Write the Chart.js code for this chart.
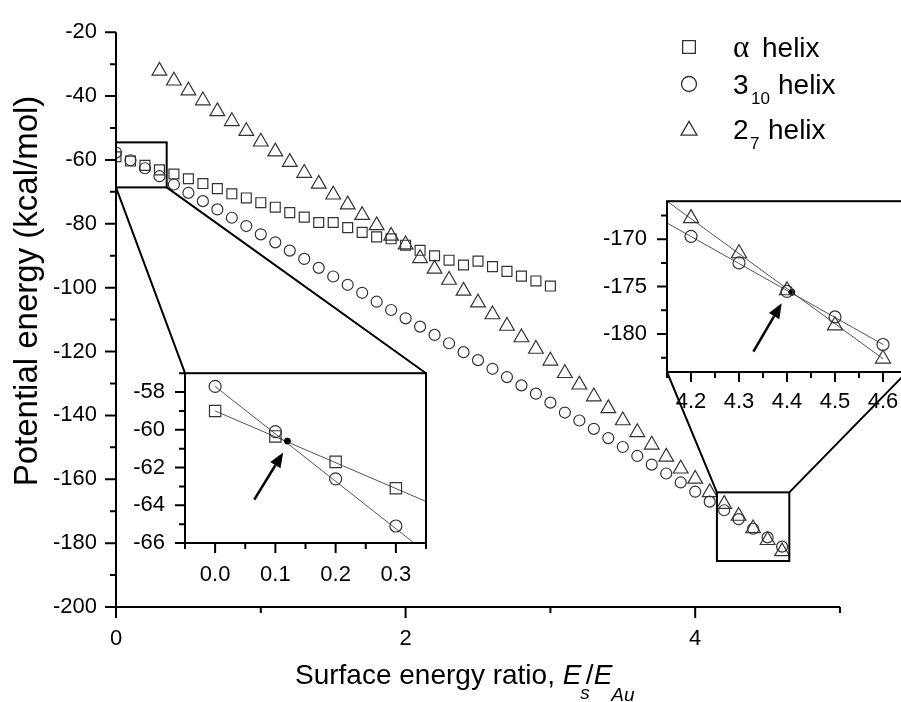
<!DOCTYPE html>
<html>
<head>
<meta charset="utf-8">
<script src="https://cdn.jsdelivr.net/npm/chart.js@4.4.0/dist/chart.umd.min.js"></script>
<style>
html,body{margin:0;padding:0;background:#fff;overflow:hidden}
#wrap{position:relative;width:901px;height:702px;overflow:hidden}
canvas{position:absolute}
</style>
</head>
<body>
<div id="wrap">
<canvas id="main" width="901" height="702" style="left:0;top:0"></canvas>
<canvas id="zoomLow" width="320" height="250" style="left:120px;top:340px"></canvas>
<canvas id="zoomHigh" width="330" height="250" style="left:590px;top:168px"></canvas>
</div>
<script>
// ---- values ----
const ratio=[0,0.1,0.2,0.3,0.4,0.5,0.6,0.7,0.8,0.9,1.0,1.1,1.2,1.3,1.4,1.5,1.6,1.7,1.8,1.9,2.0,2.1,2.2,2.3,2.4,2.5,2.6,2.7,2.8,2.9,3.0,3.1,3.2,3.3,3.4,3.5,3.6,3.7,3.8,3.9,4.0,4.1,4.2,4.3,4.4,4.5,4.6]

// alpha helix: 0 .. 3.0
const alphaE=[-59.0,-60.35,-61.7,-63.1,-64.4,-65.9,-67.4,-69.0,-70.6,-71.9,-73.4,-74.8,-76.5,-77.9,-79.6,-79.6,-81.2,-82.7,-84.1,-84.7,-86.7,-88.3,-90.0,-91.4,-92.9,-91.7,-93.4,-94.9,-96.4,-97.9,-99.5]
// 3_10 helix: 0 .. 4.6
const h310E=[-57.7,-60.1,-62.6,-65.1,-67.7,-70.3,-72.9,-75.5,-78.1,-80.7,-83.3,-85.8,-88.4,-91.0,-93.8,-96.5,-99.1,-101.6,-104.4,-107.0,-109.6,-112.2,-114.8,-117.4,-120.2,-122.7,-125.4,-128.0,-130.6,-133.2,-136.0,-139.1,-141.6,-144.2,-147.1,-149.9,-152.7,-155.4,-158.2,-161.0,-163.9,-167.0,-169.7,-172.5,-175.5,-178.2,-181.1]
// 2_7 helix: 0.3 .. 4.6
const h27E=[-32.1,-35.2,-38.3,-41.4,-44.8,-47.9,-51.0,-54.3,-57.4,-60.7,-64.1,-67.5,-70.9,-74.0,-77.3,-80.5,-83.8,-86.5,-90.8,-94.1,-97.6,-101.0,-104.7,-108.4,-112.0,-115.6,-119.2,-122.9,-126.8,-130.4,-134.1,-137.8,-141.6,-145.3,-149.2,-153.0,-156.7,-159.9,-164.1,-167.8,-171.5,-175.4,-179.1,-182.6]

const mainXTicks=[0,2,4], mainXMinor=[1,3,5]
const mainYTicks=[-20,-40,-60,-80,-100,-120,-140,-160,-180,-200]
const mainYMinor=[-30,-50,-70,-90,-110,-130,-150,-170,-190]

// low ratio inset
const lowXTicks=[0,0.1,0.2,0.3], lowXMinor=[-0.05,0.05,0.15,0.25,0.35]
const lowYTicks=[-58,-60,-62,-64,-66], lowYMinor=[-57,-59,-61,-63,-65]
const lowFitX=[0,0.35], lowFitAlpha=[-59.0,-63.8], lowFit310=[-57.7,-66.5]
const lowCross=[0.12,-60.6]
const lowArrow=[0.065,-63.7,0.113,-61.2]

// high ratio inset
const highXTicks=[4.2,4.3,4.4,4.5,4.6], highXMinor=[4.15,4.25,4.35,4.45,4.55,4.65]
const highYTicks=[-170,-175,-180], highYMinor=[-167.5,-172.5,-177.5,-182.5]
const highFitX=[4.15,4.6], highFit310=[-168.3,-181.1], highFit27=[-166.0,-182.6]
const highCross=[4.41,-175.6]
const highArrow=[4.33,-181.85,4.389,-176.75]

// zoom boxes on the main plot [x0,x1,y0,y1]
const lowBox=[0,0.35,-54.5,-68.6], highBox=[4.15,4.65,-164.1,-185.6]

const SANS="'Liberation Sans', Arial, sans-serif"
Chart.defaults.font.family=SANS
Chart.defaults.font.size=22
Chart.defaults.color='#000'

function pts(xs,ys){return ys.map((y,i)=>({x:xs[i],y:y}))}

function axis(min,max,ticks,pad,size,fmt){
  return {
    type:'linear',min:min,max:max,
    grid:{display:false,drawTicks:false},
    border:{display:false},
    ticks:{padding:pad,color:'#000',font:{size:22},callback:fmt},
    afterBuildTicks:s=>{s.ticks=ticks.map(v=>({value:v}))},
    afterFit:s=>{if(s.axis==='x')s.height=size;else s.width=size}
  }
}

function drawTicks(chart,id,vals,len){
  let ctx=chart.ctx,s=chart.scales[id],a=chart.chartArea
  ctx.save()
  ctx.strokeStyle='#000'
  ctx.lineWidth=2
  ctx.beginPath()
  vals.forEach(v=>{
    let p=s.getPixelForValue(v)
    if(id==='x'){ctx.moveTo(p,a.bottom);ctx.lineTo(p,a.bottom+len)}
    else{ctx.moveTo(a.left,p);ctx.lineTo(a.left-len,p)}
  })
  ctx.stroke()
  ctx.restore()
}

function marker(ctx,style,x,y,r){
  ctx.beginPath()
  if(style==='rect'){
    let s=r*Math.SQRT1_2
    ctx.rect(x-s,y-s,2*s,2*s)
  }else if(style==='circle'){
    ctx.arc(x,y,r,0,Math.PI*2)
  }else{
    let rad=0
    ctx.moveTo(x+Math.sin(rad)*r,y-Math.cos(rad)*r)
    rad+=Math.PI*2/3
    ctx.lineTo(x+Math.sin(rad)*r,y-Math.cos(rad)*r)
    rad+=Math.PI*2/3
    ctx.lineTo(x+Math.sin(rad)*r,y-Math.cos(rad)*r)
    ctx.closePath()
  }
  ctx.stroke()
}

function arrow(chart,a){
  let ctx=chart.ctx,sx=chart.scales.x,sy=chart.scales.y
  let x1=sx.getPixelForValue(a[0]),y1=sy.getPixelForValue(a[1])
  let x2=sx.getPixelForValue(a[2]),y2=sy.getPixelForValue(a[3])
  let ang=Math.atan2(y2-y1,x2-x1),L=15,W=6
  let bx=x2-L*Math.cos(ang),by=y2-L*Math.sin(ang)
  ctx.save()
  ctx.strokeStyle='#000'
  ctx.fillStyle='#000'
  ctx.lineWidth=2.5
  ctx.beginPath()
  ctx.moveTo(x1,y1)
  ctx.lineTo(bx,by)
  ctx.stroke()
  ctx.beginPath()
  ctx.moveTo(x2,y2)
  ctx.lineTo(bx+W*Math.sin(ang),by-W*Math.cos(ang))
  ctx.lineTo(bx-W*Math.sin(ang),by+W*Math.cos(ang))
  ctx.closePath()
  ctx.fill()
  ctx.restore()
}

function frame(chart){
  let ctx=chart.ctx,a=chart.chartArea
  ctx.save()
  ctx.strokeStyle='#000'
  ctx.lineWidth=2
  ctx.strokeRect(a.left,a.top,a.right-a.left,a.bottom-a.top)
  ctx.restore()
}

function markerSet(data,style,r){
  return {data:data,pointStyle:style,pointRadius:r,pointHoverRadius:r,borderColor:'#333',borderWidth:1.2,backgroundColor:'rgba(0,0,0,0)'}
}
function fitLine(data){
  return {type:'line',data:data,borderColor:'#555',borderWidth:1,pointRadius:0,clip:0}
}
function crossDot(c){
  return {data:[{x:c[0],y:c[1]}],pointStyle:'circle',pointRadius:3,borderColor:'#000',backgroundColor:'#000',borderWidth:1}
}

const base={responsive:false,animation:false,devicePixelRatio:1,events:[],
  plugins:{legend:{display:false},tooltip:{enabled:false}}}

// =========================
// LOW RATIO INSET
// =========================
let lowChart=new Chart(document.getElementById("zoomLow"),{
  type:'scatter',
  data:{datasets:[
    markerSet(pts(ratio.slice(0,4),h310E.slice(0,4)),'circle',6),
    markerSet(pts(ratio.slice(0,4),alphaE.slice(0,4)),'rect',8),
    crossDot(lowCross),
    fitLine(pts(lowFitX,lowFitAlpha)),
    fitLine(pts(lowFitX,lowFit310))
  ]},
  options:Object.assign({},base,{
    layout:{padding:{top:10,right:14,left:0,bottom:0}},
    scales:{
      x:axis(-0.05,0.35,lowXTicks,19,47,v=>v.toFixed(1)),
      y:axis(-66,-57,lowYTicks,20,65,v=>String(v))
    }
  }),
  plugins:[{id:'lowDecor',afterDraw(chart){
    frame(chart)
    drawTicks(chart,'x',lowXTicks,10)
    drawTicks(chart,'x',lowXMinor,6)
    drawTicks(chart,'y',lowYTicks,10)
    drawTicks(chart,'y',lowYMinor,6)
    arrow(chart,lowArrow)
  }}]
})

// =========================
// HIGH RATIO INSET
// =========================
let highChart=new Chart(document.getElementById("zoomHigh"),{
  type:'scatter',
  data:{datasets:[
    markerSet(pts(ratio.slice(42),h27E.slice(39)),'triangle',8.7),
    markerSet(pts(ratio.slice(42),h310E.slice(42)),'circle',6),
    crossDot(highCross),
    fitLine(pts(highFitX,highFit310)),
    fitLine(pts(highFitX,highFit27))
  ]},
  options:Object.assign({},base,{
    layout:{padding:{top:10,right:13,left:0,bottom:0}},
    scales:{
      x:axis(4.15,4.65,highXTicks,17,46,v=>v.toFixed(1)),
      y:axis(-184,-166,highYTicks,20,77,v=>String(v))
    }
  }),
  plugins:[{id:'highDecor',afterDraw(chart){
    frame(chart)
    drawTicks(chart,'x',highXTicks,10)
    drawTicks(chart,'x',highXMinor,6)
    drawTicks(chart,'y',highYTicks,10)
    drawTicks(chart,'y',highYMinor,6)
    arrow(chart,highArrow)
  }}]
})

// =========================
// MAIN PLOT
// =========================
function insetCorners(ch){
  let c=ch.canvas,a=ch.chartArea
  return {l:c.offsetLeft+a.left,r:c.offsetLeft+a.right,t:c.offsetTop+a.top,b:c.offsetTop+a.bottom}
}

function textRun(ctx,parts,x,y){
  parts.forEach(p=>{
    ctx.font=p.f
    ctx.fillText(p.t,x+(p.dx||0),y+(p.dy||0))
    x+=ctx.measureText(p.t).width+(p.dx||0)
  })
}

new Chart(document.getElementById("main"),{
  type:'scatter',
  data:{datasets:[
    markerSet(pts(ratio.slice(0,31),alphaE),'rect',7),
    markerSet(pts(ratio,h310E),'circle',5.5),
    markerSet(pts(ratio.slice(3),h27E),'triangle',8.5)
  ]},
  options:Object.assign({},base,{
    layout:{padding:{top:26,right:61,left:0,bottom:0}},
    scales:{
      x:axis(0,5,mainXTicks,19,95,v=>String(v)),
      y:axis(-200,-20,mainYTicks,19,116,v=>String(v))
    }
  }),
  plugins:[{id:'mainDecor',afterDraw(chart){
    let ctx=chart.ctx,a=chart.chartArea,sx=chart.scales.x,sy=chart.scales.y
    ctx.save()
    ctx.strokeStyle='#000'
    ctx.lineWidth=2
    ctx.beginPath()
    ctx.moveTo(a.left,a.top)
    ctx.lineTo(a.left,a.bottom)
    ctx.lineTo(a.right,a.bottom)
    ctx.stroke()
    ctx.restore()
    drawTicks(chart,'x',mainXTicks,11)
    drawTicks(chart,'x',mainXMinor,6)
    drawTicks(chart,'y',mainYTicks,11)
    drawTicks(chart,'y',mainYMinor,6)

    // zoom boxes and their connectors
    let boxes=[[lowBox,insetCorners(lowChart),'down'],[highBox,insetCorners(highChart),'up']]
    ctx.save()
    ctx.strokeStyle='#000'
    ctx.lineWidth=2
    boxes.forEach(b=>{
      let x0=sx.getPixelForValue(b[0][0]),x1=sx.getPixelForValue(b[0][1])
      let y0=sy.getPixelForValue(b[0][2]),y1=sy.getPixelForValue(b[0][3])
      ctx.strokeRect(x0,y0,x1-x0,y1-y0)
      let c=b[1]
      ctx.beginPath()
      if(b[2]==='down'){
        ctx.moveTo(x0,y1);ctx.lineTo(c.l,c.t)
        ctx.moveTo(x1,y1);ctx.lineTo(c.r,c.t)
      }else{
        ctx.moveTo(x0,y0);ctx.lineTo(c.l,c.b)
        ctx.moveTo(x1,y0);ctx.lineTo(c.r,c.b)
      }
      ctx.stroke()
    })
    ctx.restore()

    // legend
    ctx.save()
    ctx.strokeStyle='#333'
    ctx.lineWidth=1.3
    marker(ctx,'rect',689,47,9)
    marker(ctx,'circle',689,84,7.5)
    marker(ctx,'triangle',689,130.5,9.2)
    ctx.fillStyle='#000'
    ctx.textBaseline='alphabetic'
    ctx.textAlign='left'
    ctx.font="31px 'Liberation Serif', serif"
    ctx.fillText('α',733,57)
    ctx.font="28px "+SANS
    ctx.fillText('helix',762,57)
    ctx.fillText('3',733,94)
    ctx.fillText('helix',778,94)
    ctx.fillText('2',733,139)
    ctx.fillText('helix',768,139)
    ctx.font="17px "+SANS
    ctx.fillText('10',751,104)
    ctx.fillText('7',750,149)

    // axis titles
    ctx.font="33px "+SANS
    ctx.save()
    ctx.translate(37,291)
    ctx.rotate(-Math.PI/2)
    ctx.textAlign='center'
    ctx.fillText('Potential energy (kcal/mol)',0,0)
    ctx.restore()
    ctx.textAlign='left'
    const it="italic 28px "+SANS, sub="italic 19px "+SANS
    textRun(ctx,[
      {t:'Surface energy ratio, ',f:"28px "+SANS},
      {t:'E',f:it},
      {t:'s',f:sub,dy:15,dx:-1},
      {t:'/',f:"28px "+SANS,dx:-4},
      {t:'E',f:it},
      {t:'Au',f:sub,dy:17,dx:-1}
    ],295,684)
    ctx.restore()
  }}]
})
</script>
</body>
</html>
